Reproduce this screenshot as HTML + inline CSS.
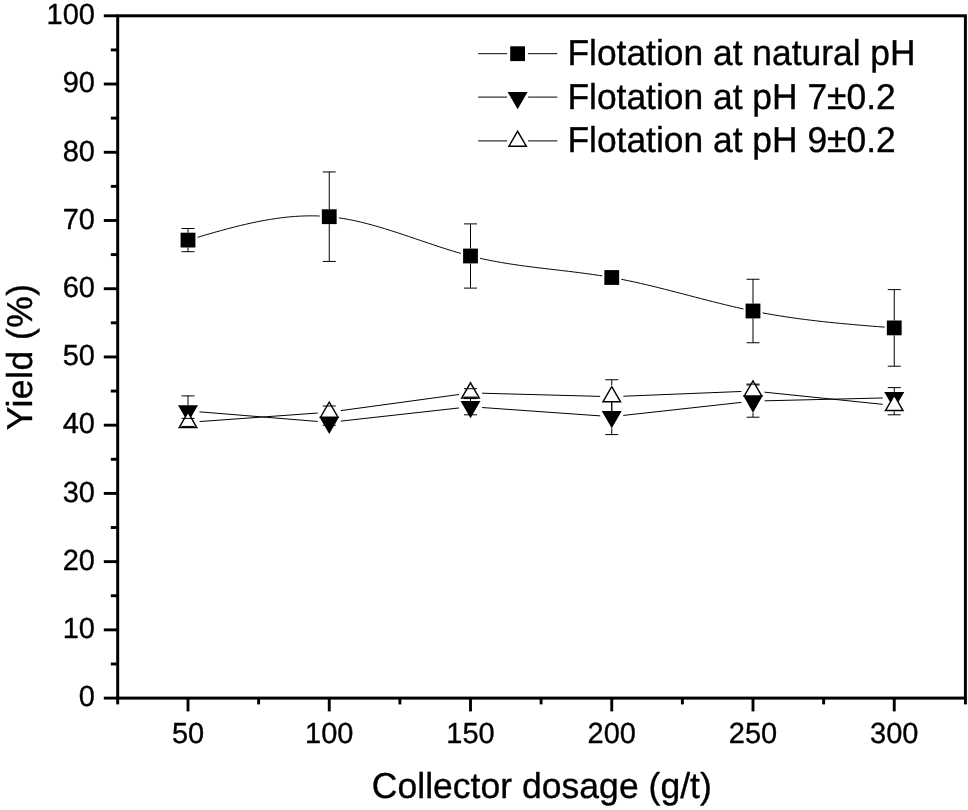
<!DOCTYPE html>
<html><head><meta charset="utf-8"><title>Yield vs collector dosage</title>
<style>
html,body{margin:0;padding:0;background:#fff;}
body{width:968px;height:810px;position:relative;overflow:hidden;font-family:"Liberation Sans",sans-serif;}
svg text{fill:#000;stroke:#000;stroke-width:0.35px;stroke-linejoin:round;text-rendering:geometricPrecision;}
#chart{position:absolute;left:0;top:0;width:968px;height:810px;will-change:transform;}
</style></head><body>
<div id="chart">
<svg width="968" height="810" viewBox="0 0 968 810" style="display:block;position:absolute;left:0;top:0">
<rect x="0" y="0" width="968" height="810" fill="#fff"/>
<polyline fill="none" stroke="#000" stroke-width="1" points="197.58,237.27 199.97,236.57 202.36,235.87 204.76,235.17 207.15,234.48 209.55,233.79 211.94,233.11 214.33,232.43 216.73,231.76 219.12,231.09 221.52,230.43 223.91,229.78 226.31,229.13 228.7,228.5 231.09,227.87 233.49,227.26 235.88,226.65 238.28,226.06 240.67,225.47 243.06,224.9 245.46,224.34 247.85,223.79 250.25,223.26 252.64,222.74 255.03,222.23 257.43,221.74 259.82,221.27 262.22,220.81 264.61,220.37 267,219.95 269.4,219.54 271.79,219.15 274.19,218.78 276.58,218.43 278.97,218.1 281.37,217.79 283.76,217.5 286.16,217.23 288.55,216.99 290.94,216.76 293.34,216.56 295.73,216.39 298.13,216.23 300.52,216.11 302.92,216 305.31,215.93 307.7,215.88 310.1,215.85 312.49,215.86 314.89,215.89 317.28,215.95 319.67,216.04"/>
<polyline fill="none" stroke="#000" stroke-width="1" points="338.83,217.85 341.22,218.21 343.61,218.6 346.01,219.01 348.4,219.45 350.8,219.92 353.19,220.41 355.58,220.92 357.98,221.46 360.37,222.01 362.77,222.59 365.16,223.18 367.56,223.8 369.95,224.43 372.34,225.08 374.74,225.75 377.13,226.43 379.53,227.13 381.92,227.84 384.31,228.56 386.71,229.3 389.1,230.05 391.5,230.8 393.89,231.57 396.28,232.35 398.68,233.13 401.07,233.92 403.47,234.71 405.86,235.52 408.25,236.32 410.65,237.13 413.04,237.94 415.44,238.76 417.83,239.57 420.22,240.38 422.62,241.2 425.01,242.01 427.41,242.82 429.8,243.63 432.19,244.43 434.59,245.23 436.98,246.02 439.38,246.8 441.77,247.58 444.17,248.35 446.56,249.11 448.95,249.86 451.35,250.59 453.74,251.32 456.14,252.03 458.53,252.73 460.92,253.42"/>
<polyline fill="none" stroke="#000" stroke-width="1" points="480.08,258.3 482.47,258.83 484.86,259.34 487.26,259.84 489.65,260.33 492.05,260.8 494.44,261.25 496.83,261.7 499.23,262.13 501.62,262.54 504.02,262.95 506.41,263.34 508.81,263.73 511.2,264.1 513.59,264.46 515.99,264.82 518.38,265.17 520.78,265.5 523.17,265.83 525.56,266.16 527.96,266.47 530.35,266.78 532.75,267.09 535.14,267.39 537.53,267.68 539.93,267.97 542.32,268.26 544.72,268.55 547.11,268.83 549.5,269.11 551.9,269.39 554.29,269.67 556.69,269.95 559.08,270.23 561.47,270.51 563.87,270.79 566.26,271.07 568.66,271.35 571.05,271.64 573.44,271.93 575.84,272.23 578.23,272.53 580.63,272.84 583.02,273.15 585.42,273.46 587.81,273.79 590.2,274.12 592.6,274.46 594.99,274.8 597.39,275.16 599.78,275.52 602.17,275.9"/>
<polyline fill="none" stroke="#000" stroke-width="1" points="621.33,279.29 623.72,279.77 626.11,280.26 628.51,280.75 630.9,281.26 633.3,281.78 635.69,282.3 638.08,282.84 640.48,283.38 642.87,283.93 645.27,284.48 647.66,285.05 650.06,285.62 652.45,286.2 654.84,286.78 657.24,287.37 659.63,287.96 662.03,288.56 664.42,289.16 666.81,289.77 669.21,290.38 671.6,290.99 674,291.61 676.39,292.23 678.78,292.85 681.18,293.47 683.57,294.09 685.97,294.72 688.36,295.34 690.75,295.97 693.15,296.59 695.54,297.22 697.94,297.84 700.33,298.46 702.72,299.08 705.12,299.7 707.51,300.31 709.91,300.93 712.3,301.53 714.69,302.14 717.09,302.74 719.48,303.34 721.88,303.93 724.27,304.51 726.67,305.1 729.06,305.67 731.45,306.24 733.85,306.8 736.24,307.35 738.64,307.9 741.03,308.44 743.42,308.97"/>
<polyline fill="none" stroke="#000" stroke-width="1" points="762.58,312.87 764.97,313.32 767.36,313.75 769.76,314.18 772.15,314.59 774.55,315 776.94,315.4 779.33,315.79 781.73,316.17 784.12,316.54 786.52,316.91 788.91,317.27 791.31,317.62 793.7,317.96 796.09,318.29 798.49,318.62 800.88,318.94 803.28,319.26 805.67,319.57 808.06,319.87 810.46,320.16 812.85,320.45 815.25,320.73 817.64,321.01 820.03,321.28 822.43,321.55 824.82,321.81 827.22,322.07 829.61,322.32 832,322.57 834.4,322.81 836.79,323.05 839.19,323.28 841.58,323.51 843.97,323.73 846.37,323.96 848.76,324.17 851.16,324.39 853.55,324.6 855.94,324.81 858.34,325.02 860.73,325.22 863.13,325.42 865.52,325.62 867.92,325.82 870.31,326.02 872.7,326.21 875.1,326.4 877.49,326.59 879.89,326.78 882.28,326.97 884.67,327.16"/>
<rect x="180.6" y="232.7" width="14.8" height="14.8" fill="#000"/>
<rect x="321.85" y="209.3" width="14.8" height="14.8" fill="#000"/>
<rect x="463.1" y="248.6" width="14.8" height="14.8" fill="#000"/>
<rect x="604.35" y="270.1" width="14.8" height="14.8" fill="#000"/>
<rect x="745.6" y="303.6" width="14.8" height="14.8" fill="#000"/>
<rect x="886.85" y="320.5" width="14.8" height="14.8" fill="#000"/>
<line x1="181.5" y1="228.5" x2="194.5" y2="228.5" stroke="#000" stroke-width="1"/>
<line x1="181.5" y1="251.7" x2="194.5" y2="251.7" stroke="#000" stroke-width="1"/>
<line x1="188" y1="228.5" x2="188" y2="232.7" stroke="#000" stroke-width="1"/>
<line x1="188" y1="247.5" x2="188" y2="251.7" stroke="#000" stroke-width="1"/>
<line x1="322.75" y1="171.95" x2="335.75" y2="171.95" stroke="#000" stroke-width="1"/>
<line x1="322.75" y1="261.45" x2="335.75" y2="261.45" stroke="#000" stroke-width="1"/>
<line x1="329.25" y1="171.95" x2="329.25" y2="209.3" stroke="#000" stroke-width="1"/>
<line x1="329.25" y1="224.1" x2="329.25" y2="261.45" stroke="#000" stroke-width="1"/>
<line x1="464" y1="223.9" x2="477" y2="223.9" stroke="#000" stroke-width="1"/>
<line x1="464" y1="288.1" x2="477" y2="288.1" stroke="#000" stroke-width="1"/>
<line x1="470.5" y1="223.9" x2="470.5" y2="248.6" stroke="#000" stroke-width="1"/>
<line x1="470.5" y1="263.4" x2="470.5" y2="288.1" stroke="#000" stroke-width="1"/>
<line x1="746.5" y1="279.25" x2="759.5" y2="279.25" stroke="#000" stroke-width="1"/>
<line x1="746.5" y1="342.75" x2="759.5" y2="342.75" stroke="#000" stroke-width="1"/>
<line x1="753" y1="279.25" x2="753" y2="303.6" stroke="#000" stroke-width="1"/>
<line x1="753" y1="318.4" x2="753" y2="342.75" stroke="#000" stroke-width="1"/>
<line x1="887.75" y1="289.6" x2="900.75" y2="289.6" stroke="#000" stroke-width="1"/>
<line x1="887.75" y1="366.2" x2="900.75" y2="366.2" stroke="#000" stroke-width="1"/>
<line x1="894.25" y1="289.6" x2="894.25" y2="320.5" stroke="#000" stroke-width="1"/>
<line x1="894.25" y1="335.3" x2="894.25" y2="366.2" stroke="#000" stroke-width="1"/>
<line x1="199.56" y1="411.84" x2="317.69" y2="421.46" stroke="#000" stroke-width="1"/>
<line x1="340.78" y1="421.12" x2="458.97" y2="407.98" stroke="#000" stroke-width="1"/>
<line x1="482.07" y1="407.52" x2="600.18" y2="415.88" stroke="#000" stroke-width="1"/>
<line x1="623.28" y1="415.43" x2="741.47" y2="402.37" stroke="#000" stroke-width="1"/>
<line x1="764.6" y1="400.82" x2="882.65" y2="397.98" stroke="#000" stroke-width="1"/>
<polygon points="178,405.13 198,405.13 188,422.43" fill="#000"/>
<polygon points="319.25,416.63 339.25,416.63 329.25,433.93" fill="#000"/>
<polygon points="460.5,400.93 480.5,400.93 470.5,418.23" fill="#000"/>
<polygon points="601.75,410.93 621.75,410.93 611.75,428.23" fill="#000"/>
<polygon points="743,395.33 763,395.33 753,412.63" fill="#000"/>
<polygon points="884.25,391.93 904.25,391.93 894.25,409.23" fill="#000"/>
<line x1="181.5" y1="395.9" x2="194.5" y2="395.9" stroke="#000" stroke-width="1"/>
<line x1="181.5" y1="425.9" x2="194.5" y2="425.9" stroke="#000" stroke-width="1"/>
<line x1="188" y1="395.9" x2="188" y2="405.13" stroke="#000" stroke-width="1"/>
<line x1="188" y1="422.43" x2="188" y2="425.9" stroke="#000" stroke-width="1"/>
<line x1="322.75" y1="419.5" x2="335.75" y2="419.5" stroke="#000" stroke-width="1"/>
<line x1="322.75" y1="425.3" x2="335.75" y2="425.3" stroke="#000" stroke-width="1"/>
<line x1="464" y1="398.6" x2="477" y2="398.6" stroke="#000" stroke-width="1"/>
<line x1="464" y1="414.8" x2="477" y2="414.8" stroke="#000" stroke-width="1"/>
<line x1="470.5" y1="398.6" x2="470.5" y2="400.93" stroke="#000" stroke-width="1"/>
<line x1="605.25" y1="398.8" x2="618.25" y2="398.8" stroke="#000" stroke-width="1"/>
<line x1="605.25" y1="434.6" x2="618.25" y2="434.6" stroke="#000" stroke-width="1"/>
<line x1="611.75" y1="398.8" x2="611.75" y2="410.93" stroke="#000" stroke-width="1"/>
<line x1="611.75" y1="428.23" x2="611.75" y2="434.6" stroke="#000" stroke-width="1"/>
<line x1="746.5" y1="385" x2="759.5" y2="385" stroke="#000" stroke-width="1"/>
<line x1="746.5" y1="417.2" x2="759.5" y2="417.2" stroke="#000" stroke-width="1"/>
<line x1="753" y1="385" x2="753" y2="395.33" stroke="#000" stroke-width="1"/>
<line x1="753" y1="412.63" x2="753" y2="417.2" stroke="#000" stroke-width="1"/>
<line x1="887.75" y1="387.6" x2="900.75" y2="387.6" stroke="#000" stroke-width="1"/>
<line x1="887.75" y1="407.8" x2="900.75" y2="407.8" stroke="#000" stroke-width="1"/>
<line x1="894.25" y1="387.6" x2="894.25" y2="391.93" stroke="#000" stroke-width="1"/>
<line x1="199.57" y1="421.56" x2="317.68" y2="413.04" stroke="#000" stroke-width="1"/>
<line x1="340.74" y1="410.63" x2="459.01" y2="394.47" stroke="#000" stroke-width="1"/>
<line x1="482.1" y1="393.21" x2="600.15" y2="396.39" stroke="#000" stroke-width="1"/>
<line x1="623.34" y1="396.23" x2="741.41" y2="391.47" stroke="#000" stroke-width="1"/>
<line x1="764.54" y1="392.18" x2="882.71" y2="404.32" stroke="#000" stroke-width="1"/>
<polygon points="178,428.17 198,428.17 188,410.87" fill="#000"/>
<polygon points="180.51,426.72 195.49,426.72 188,413.76" fill="#fff"/>
<polygon points="319.25,417.97 339.25,417.97 329.25,400.67" fill="#000"/>
<polygon points="321.76,416.52 336.74,416.52 329.25,403.56" fill="#fff"/>
<polygon points="460.5,398.67 480.5,398.67 470.5,381.37" fill="#000"/>
<polygon points="463.01,397.22 477.99,397.22 470.5,384.26" fill="#fff"/>
<polygon points="601.75,402.47 621.75,402.47 611.75,385.17" fill="#000"/>
<polygon points="604.26,401.02 619.24,401.02 611.75,388.06" fill="#fff"/>
<polygon points="743,396.77 763,396.77 753,379.47" fill="#000"/>
<polygon points="745.51,395.32 760.49,395.32 753,382.36" fill="#fff"/>
<polygon points="884.25,411.27 904.25,411.27 894.25,393.97" fill="#000"/>
<polygon points="886.76,409.82 901.74,409.82 894.25,396.86" fill="#fff"/>
<line x1="181.5" y1="418.4" x2="194.5" y2="418.4" stroke="#000" stroke-width="1"/>
<line x1="181.5" y1="426.4" x2="194.5" y2="426.4" stroke="#000" stroke-width="1"/>
<line x1="322.75" y1="406" x2="335.75" y2="406" stroke="#000" stroke-width="1"/>
<line x1="322.75" y1="418.4" x2="335.75" y2="418.4" stroke="#000" stroke-width="1"/>
<line x1="329.25" y1="417.97" x2="329.25" y2="418.4" stroke="#000" stroke-width="1"/>
<line x1="464" y1="388.7" x2="477" y2="388.7" stroke="#000" stroke-width="1"/>
<line x1="464" y1="397.1" x2="477" y2="397.1" stroke="#000" stroke-width="1"/>
<line x1="605.25" y1="379.75" x2="618.25" y2="379.75" stroke="#000" stroke-width="1"/>
<line x1="605.25" y1="413.65" x2="618.25" y2="413.65" stroke="#000" stroke-width="1"/>
<line x1="611.75" y1="379.75" x2="611.75" y2="385.17" stroke="#000" stroke-width="1"/>
<line x1="611.75" y1="402.47" x2="611.75" y2="413.65" stroke="#000" stroke-width="1"/>
<line x1="746.5" y1="384.1" x2="759.5" y2="384.1" stroke="#000" stroke-width="1"/>
<line x1="746.5" y1="397.9" x2="759.5" y2="397.9" stroke="#000" stroke-width="1"/>
<line x1="753" y1="396.77" x2="753" y2="397.9" stroke="#000" stroke-width="1"/>
<line x1="887.75" y1="396.2" x2="900.75" y2="396.2" stroke="#000" stroke-width="1"/>
<line x1="887.75" y1="414.8" x2="900.75" y2="414.8" stroke="#000" stroke-width="1"/>
<line x1="894.25" y1="411.27" x2="894.25" y2="414.8" stroke="#000" stroke-width="1"/>
<rect x="117.7" y="15.8" width="847.7" height="682.3" fill="none" stroke="#000" stroke-width="3"/>
<line x1="103.8" y1="698.1" x2="117.7" y2="698.1" stroke="#000" stroke-width="2.9"/>
<line x1="110.8" y1="663.99" x2="117.7" y2="663.99" stroke="#000" stroke-width="2.9"/>
<line x1="103.8" y1="629.87" x2="117.7" y2="629.87" stroke="#000" stroke-width="2.9"/>
<line x1="110.8" y1="595.75" x2="117.7" y2="595.75" stroke="#000" stroke-width="2.9"/>
<line x1="103.8" y1="561.64" x2="117.7" y2="561.64" stroke="#000" stroke-width="2.9"/>
<line x1="110.8" y1="527.53" x2="117.7" y2="527.53" stroke="#000" stroke-width="2.9"/>
<line x1="103.8" y1="493.41" x2="117.7" y2="493.41" stroke="#000" stroke-width="2.9"/>
<line x1="110.8" y1="459.29" x2="117.7" y2="459.29" stroke="#000" stroke-width="2.9"/>
<line x1="103.8" y1="425.18" x2="117.7" y2="425.18" stroke="#000" stroke-width="2.9"/>
<line x1="110.8" y1="391.06" x2="117.7" y2="391.06" stroke="#000" stroke-width="2.9"/>
<line x1="103.8" y1="356.95" x2="117.7" y2="356.95" stroke="#000" stroke-width="2.9"/>
<line x1="110.8" y1="322.83" x2="117.7" y2="322.83" stroke="#000" stroke-width="2.9"/>
<line x1="103.8" y1="288.72" x2="117.7" y2="288.72" stroke="#000" stroke-width="2.9"/>
<line x1="110.8" y1="254.6" x2="117.7" y2="254.6" stroke="#000" stroke-width="2.9"/>
<line x1="103.8" y1="220.49" x2="117.7" y2="220.49" stroke="#000" stroke-width="2.9"/>
<line x1="110.8" y1="186.37" x2="117.7" y2="186.37" stroke="#000" stroke-width="2.9"/>
<line x1="103.8" y1="152.26" x2="117.7" y2="152.26" stroke="#000" stroke-width="2.9"/>
<line x1="110.8" y1="118.14" x2="117.7" y2="118.14" stroke="#000" stroke-width="2.9"/>
<line x1="103.8" y1="84.03" x2="117.7" y2="84.03" stroke="#000" stroke-width="2.9"/>
<line x1="110.8" y1="49.91" x2="117.7" y2="49.91" stroke="#000" stroke-width="2.9"/>
<line x1="103.8" y1="15.8" x2="117.7" y2="15.8" stroke="#000" stroke-width="2.9"/>
<line x1="117.7" y1="698.1" x2="117.7" y2="704.4" stroke="#000" stroke-width="2.9"/>
<line x1="188" y1="698.1" x2="188" y2="711.4" stroke="#000" stroke-width="2.9"/>
<line x1="258.62" y1="698.1" x2="258.62" y2="704.4" stroke="#000" stroke-width="2.9"/>
<line x1="329.25" y1="698.1" x2="329.25" y2="711.4" stroke="#000" stroke-width="2.9"/>
<line x1="399.88" y1="698.1" x2="399.88" y2="704.4" stroke="#000" stroke-width="2.9"/>
<line x1="470.5" y1="698.1" x2="470.5" y2="711.4" stroke="#000" stroke-width="2.9"/>
<line x1="541.12" y1="698.1" x2="541.12" y2="704.4" stroke="#000" stroke-width="2.9"/>
<line x1="611.75" y1="698.1" x2="611.75" y2="711.4" stroke="#000" stroke-width="2.9"/>
<line x1="682.38" y1="698.1" x2="682.38" y2="704.4" stroke="#000" stroke-width="2.9"/>
<line x1="753" y1="698.1" x2="753" y2="711.4" stroke="#000" stroke-width="2.9"/>
<line x1="823.62" y1="698.1" x2="823.62" y2="704.4" stroke="#000" stroke-width="2.9"/>
<line x1="894.25" y1="698.1" x2="894.25" y2="711.4" stroke="#000" stroke-width="2.9"/>
<line x1="965.4" y1="698.1" x2="965.4" y2="704.4" stroke="#000" stroke-width="2.9"/>
<text transform="translate(94.9,706.4)" text-anchor="end" font-family="Liberation Sans, sans-serif" font-size="29.0">0</text>
<text transform="translate(94.9,638.17)" text-anchor="end" font-family="Liberation Sans, sans-serif" font-size="29.0">10</text>
<text transform="translate(94.9,569.94)" text-anchor="end" font-family="Liberation Sans, sans-serif" font-size="29.0">20</text>
<text transform="translate(94.9,501.71)" text-anchor="end" font-family="Liberation Sans, sans-serif" font-size="29.0">30</text>
<text transform="translate(94.9,433.48)" text-anchor="end" font-family="Liberation Sans, sans-serif" font-size="29.0">40</text>
<text transform="translate(94.9,365.25)" text-anchor="end" font-family="Liberation Sans, sans-serif" font-size="29.0">50</text>
<text transform="translate(94.9,297.02)" text-anchor="end" font-family="Liberation Sans, sans-serif" font-size="29.0">60</text>
<text transform="translate(94.9,228.79)" text-anchor="end" font-family="Liberation Sans, sans-serif" font-size="29.0">70</text>
<text transform="translate(94.9,160.56)" text-anchor="end" font-family="Liberation Sans, sans-serif" font-size="29.0">80</text>
<text transform="translate(94.9,92.33)" text-anchor="end" font-family="Liberation Sans, sans-serif" font-size="29.0">90</text>
<text transform="translate(94.9,24.1)" text-anchor="end" font-family="Liberation Sans, sans-serif" font-size="29.0">100</text>
<text transform="translate(188,743.1)" text-anchor="middle" font-family="Liberation Sans, sans-serif" font-size="29.0">50</text>
<text transform="translate(329.25,743.1)" text-anchor="middle" font-family="Liberation Sans, sans-serif" font-size="29.0">100</text>
<text transform="translate(470.5,743.1)" text-anchor="middle" font-family="Liberation Sans, sans-serif" font-size="29.0">150</text>
<text transform="translate(611.75,743.1)" text-anchor="middle" font-family="Liberation Sans, sans-serif" font-size="29.0">200</text>
<text transform="translate(753,743.1)" text-anchor="middle" font-family="Liberation Sans, sans-serif" font-size="29.0">250</text>
<text transform="translate(894.25,743.1)" text-anchor="middle" font-family="Liberation Sans, sans-serif" font-size="29.0">300</text>
<text transform="translate(541.8,797.5) scale(1,1.015)" text-anchor="middle" font-family="Liberation Sans, sans-serif" font-size="35.5" letter-spacing="0.03">Collector dosage (g/t)</text>
<text transform="translate(31.8,356.9) rotate(-90) scale(1,1.015)" text-anchor="middle" font-family="Liberation Sans, sans-serif" font-size="35.5" letter-spacing="0.45">Yield (%)</text>
<line x1="478.2" y1="53.7" x2="507.1" y2="53.7" stroke="#000" stroke-width="1"/>
<line x1="528.1" y1="53.7" x2="557.3" y2="53.7" stroke="#000" stroke-width="1"/>
<rect x="510.2" y="46.3" width="14.8" height="14.8" fill="#000"/>
<text transform="translate(567.4,65.4) scale(1,1.015)" font-family="Liberation Sans, sans-serif" font-size="35.4">Flotation at natural pH</text>
<line x1="478.2" y1="97.1" x2="507.1" y2="97.1" stroke="#000" stroke-width="1"/>
<line x1="528.1" y1="97.1" x2="557.3" y2="97.1" stroke="#000" stroke-width="1"/>
<polygon points="507.6,91.93 527.6,91.93 517.6,109.23" fill="#000"/>
<text transform="translate(567.4,109) scale(1,1.015)" font-family="Liberation Sans, sans-serif" font-size="35.4">Flotation at pH 7±0.2</text>
<line x1="478.2" y1="140.9" x2="507.1" y2="140.9" stroke="#000" stroke-width="1"/>
<line x1="528.1" y1="140.9" x2="557.3" y2="140.9" stroke="#000" stroke-width="1"/>
<polygon points="507.6,147.07 527.6,147.07 517.6,129.77" fill="#000"/>
<polygon points="510.11,145.62 525.09,145.62 517.6,132.66" fill="#fff"/>
<text transform="translate(567.4,152.3) scale(1,1.015)" font-family="Liberation Sans, sans-serif" font-size="35.4">Flotation at pH 9±0.2</text>
</svg>
</div>
</body></html>
